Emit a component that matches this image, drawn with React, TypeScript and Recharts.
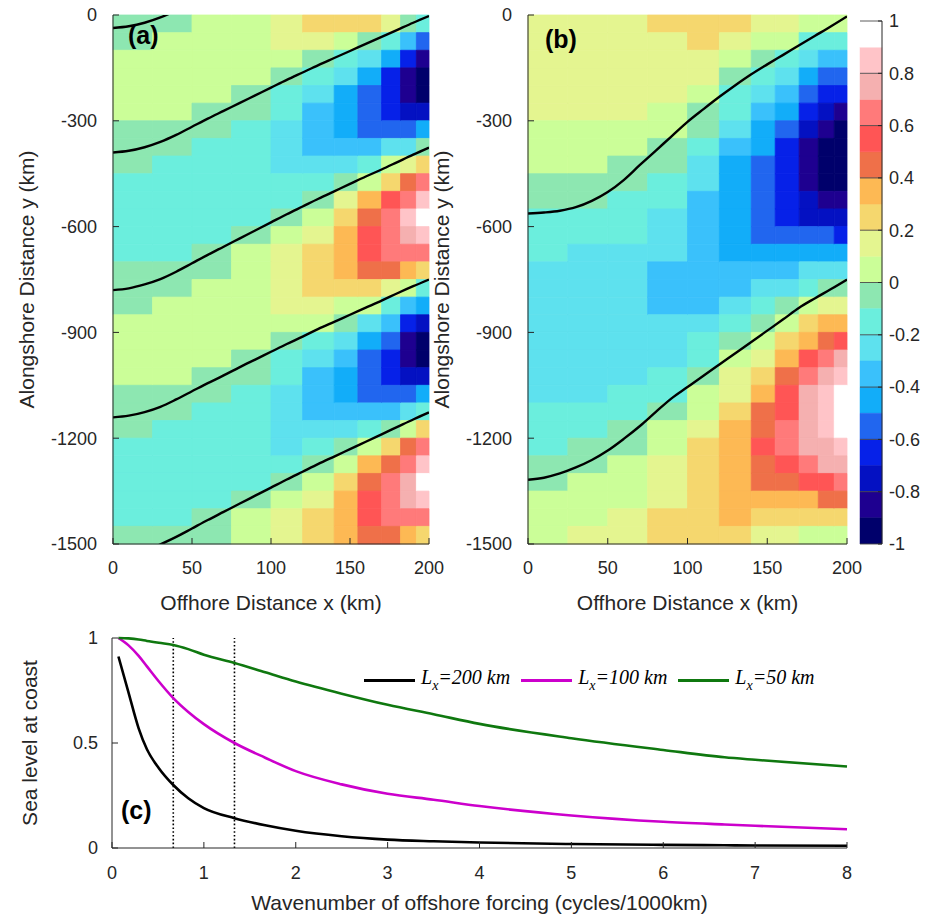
import React from "react";
import {
  ComposedChart,
  BarChart,
  Bar,
  Line,
  XAxis,
  YAxis,
  ReferenceArea,
  ReferenceLine,
} from "recharts";

// colour of each contour band, band k covers [k/10, (k+1)/10), k = -10..9
const bandColors = [
  "#00006b", "#1e0090", "#0411c2", "#0621e8", "#2166ef",
  "#12adf9", "#3ac1fb", "#5ee1ee", "#6beedd", "#8de7b1",
  "#cbfe98", "#e4f590", "#f5d76e", "#fdb954", "#ef7049",
  "#ff5555", "#ff7a7a", "#f5b0b0", "#ffc4c8", "#ffffff",
];

// grid cell edges (km)
const xEdges = [0, 25, 50, 75, 100, 120, 140, 155, 170, 182, 192, 200];
const yEdges = [
  0, -50, -100, -150, -200, -250, -300, -350, -400, -450, -500,
  -550, -600, -650, -700, -750, -800, -850, -900, -950, -1000,
  -1050, -1100, -1150, -1200, -1250, -1300, -1350, -1400, -1450, -1500,
];

// panel (a): band index per cell, one array per offshore column, top to bottom
const bandsA = [
  [-1, -1, 0, 0, 0, 0, -1, -1, -1, -2, -2, -2, -2, -2, -1, -1, -1, 0, 0, 0, 0, -1, -1, -1, -2, -2, -2, -2, -2, -1],
  [-1, 0, 0, 0, 0, 0, -1, -1, -2, -2, -2, -2, -2, -2, -1, -1, 0, 0, 0, 0, 0, -1, -1, -2, -2, -2, -2, -2, -2, -1],
  [0, 0, 0, 0, 0, -1, -1, -2, -2, -2, -2, -2, -2, -1, -1, 0, 0, 0, 0, 0, -1, -1, -2, -2, -2, -2, -2, -2, -1, -1],
  [0, 0, 0, 0, -1, -1, -2, -2, -2, -2, -2, -2, -1, 0, 0, 0, 0, 0, 0, -1, -1, -2, -2, -2, -2, -2, -2, -1, 0, 0],
  [1, 1, 0, -1, -2, -2, -3, -3, -3, -2, -2, -1, 0, 1, 1, 1, 1, 0, -1, -2, -2, -3, -3, -3, -3, -2, -1, 0, 1, 1],
  [2, 1, -1, -2, -3, -4, -4, -4, -3, -2, -1, 0, 1, 2, 2, 2, 1, 0, -2, -3, -4, -4, -4, -3, -2, -1, 0, 1, 2, 2],
  [2, 0, -2, -3, -5, -5, -5, -4, -3, -1, 1, 2, 3, 3, 3, 2, 0, -1, -3, -4, -5, -5, -4, -3, -1, 0, 2, 3, 3, 3],
  [2, -1, -3, -5, -6, -6, -6, -4, -2, 0, 3, 4, 5, 5, 4, 2, 0, -3, -5, -6, -6, -6, -4, -2, 0, 3, 4, 5, 5, 4],
  [1, -2, -5, -7, -7, -7, -6, -3, 0, 2, 5, 6, 6, 6, 4, 1, -2, -4, -6, -7, -7, -6, -4, -1, 2, 4, 6, 6, 6, 4],
  [-1, -4, -7, -9, -9, -8, -6, -3, 1, 4, 6, 8, 7, 6, 3, 0, -4, -7, -9, -9, -8, -6, -3, 0, 4, 6, 7, 7, 6, 3],
  [-2, -6, -9, -10, -10, -8, -5, -1, 2, 6, 8, 9, 8, 6, 2, -2, -5, -8, -10, -10, -8, -5, -2, 2, 6, 8, 9, 8, 6, 2],
];

// panel (b)
const bandsB = [
  [1, 1, 1, 1, 1, 1, 0, 0, 0, -1, -1, -2, -2, -2, -3, -3, -3, -3, -3, -3, -3, -3, -2, -2, -2, -1, -1, 0, 0, 0],
  [1, 1, 1, 1, 1, 1, 0, 0, 0, -1, -1, -2, -2, -3, -3, -3, -3, -3, -3, -3, -3, -3, -2, -2, -1, -1, 0, 0, 0, 1],
  [1, 1, 1, 1, 1, 1, 0, 0, -1, -1, -2, -2, -2, -3, -3, -3, -3, -3, -3, -3, -3, -2, -2, -1, -1, 0, 0, 0, 1, 1],
  [2, 1, 1, 1, 1, 0, 0, -1, -1, -2, -2, -3, -3, -3, -4, -4, -4, -3, -3, -3, -2, -2, -1, 0, 0, 1, 1, 1, 2, 2],
  [2, 2, 1, 1, 0, -1, -1, -2, -3, -3, -4, -4, -4, -4, -4, -4, -4, -3, -2, -2, -1, 0, 0, 1, 2, 2, 2, 2, 2, 2],
  [2, 1, 0, -1, -2, -2, -3, -4, -5, -5, -5, -5, -5, -5, -4, -4, -3, -2, -1, 0, 1, 1, 2, 3, 3, 3, 3, 3, 3, 2],
  [1, 0, -1, -2, -3, -4, -5, -5, -6, -6, -6, -6, -6, -5, -4, -3, -2, -1, 0, 1, 2, 3, 4, 4, 5, 4, 4, 3, 2, 1],
  [1, 0, -2, -3, -4, -5, -6, -7, -7, -7, -7, -7, -6, -5, -4, -3, -1, 0, 2, 3, 4, 5, 5, 6, 6, 5, 4, 3, 2, 1],
  [0, -2, -3, -5, -6, -7, -8, -9, -9, -9, -8, -8, -6, -5, -3, -2, 0, 2, 3, 5, 6, 7, 7, 7, 7, 6, 5, 3, 2, 0],
  [0, -2, -4, -6, -7, -8, -9, -10, -10, -10, -9, -8, -6, -5, -3, -1, 1, 3, 4, 6, 7, 8, 8, 8, 7, 7, 5, 4, 2, 0],
  [0, -2, -4, -6, -7, -9, -10, -10, -10, -10, -9, -8, -7, -5, -3, -1, 1, 3, 5, 7, 8, 9, 9, 9, 8, 7, 6, 4, 2, 0],
];

// black contour lines, y (km) at each x
const lineXs = [0, 10, 20, 30, 40, 50, 60, 70, 80, 90, 100, 110, 120, 130, 140, 150, 160, 170, 180, 190, 200];
const lineA0 = [-37, -32, -22, -7, 13, 36, 59];
const lineA1 = [-390, -385, -375, -360, -340, -317, -294, -272, -250, -228, -206, -184, -163, -142, -122, -102, -82, -62, -42, -22, -3];
const lineA2 = [-780, -775, -764, -749, -728, -704, -680, -657, -634, -611, -588, -565, -543, -521, -500, -479, -458, -438, -417, -396, -376];
const lineA3 = [-1141, -1136, -1126, -1111, -1090, -1067, -1044, -1022, -999, -977, -955, -933, -912, -890, -870, -850, -830, -810, -789, -769, -750];
const lineA4 = [-1533, -1527, -1517, -1501, -1480, -1456, -1432, -1409, -1386, -1363, -1340, -1317, -1295, -1273, -1252, -1231, -1210, -1189, -1168, -1147, -1127];
const lineB1 = [-563, -560, -555, -545, -527, -502, -468, -426, -385, -344, -303, -267, -232, -199, -168, -140, -113, -86, -59, -32, -4];
const lineB2 = [-1318, -1312, -1300, -1283, -1262, -1235, -1202, -1166, -1126, -1087, -1055, -1023, -991, -959, -927, -895, -863, -830, -803, -777, -750];

const xTicksField = [0, 50, 100, 150, 200];
const yTicksField = [-1500, -1200, -900, -600, -300, 0];

const colorLevels = [-1, -0.9, -0.8, -0.7, -0.6, -0.5, -0.4, -0.3, -0.2, -0.1, 0, 0.1, 0.2, 0.3, 0.4, 0.5, 0.6, 0.7, 0.8, 0.9, 1];
const colorTicks = [-1, -0.8, -0.6, -0.4, -0.2, 0, 0.2, 0.4, 0.6, 0.8, 1];

// panel (c)
const kValues = [0.07, 0.18, 0.29, 0.38, 0.51, 0.667, 0.83, 1, 1.333, 1.667, 2, 2.5, 3, 3.5, 4, 5, 6, 6.667, 7, 8];
const lx200 = [0.912, 0.74, 0.57, 0.47, 0.38, 0.3, 0.237, 0.19, 0.142, 0.108, 0.082, 0.056, 0.04, 0.032, 0.026, 0.019, 0.015, 0.013, 0.012, 0.011];
const lx100 = [1.0, 0.965, 0.915, 0.865, 0.793, 0.714, 0.648, 0.59, 0.5, 0.43, 0.366, 0.303, 0.258, 0.23, 0.2, 0.155, 0.125, 0.112, 0.106, 0.089];
const lx50 = [1.0, 0.998, 0.993, 0.986, 0.977, 0.967, 0.947, 0.92, 0.881, 0.837, 0.793, 0.735, 0.682, 0.637, 0.591, 0.523, 0.467, 0.432, 0.42, 0.388];
const forcingK = [0.667, 1.333];
const kTicks = [0, 1, 2, 3, 4, 5, 6, 7, 8];
const levelTicks = [0, 0.5, 1];

const TEXT = "#262626";
const tickStyle = { fontSize: 18, fill: TEXT };
const edge = { stroke: TEXT };

const toPoints = (ys: number[]) => ys.map((y, i) => ({ x: lineXs[i], y }));

function FieldPanel({ bands, lines, right }: { bands: number[][]; lines: number[][]; right: number }) {
  return (
    <ComposedChart width={460} height={620} margin={{ top: 15, right, bottom: 0, left: 0 }}>
      {bands.flatMap((col, j) =>
        col.map((k, i) => (
          <ReferenceArea
            key={`c${j}-${i}`}
            x1={xEdges[j]}
            x2={xEdges[j + 1]}
            y1={yEdges[i + 1]}
            y2={yEdges[i]}
            fill={bandColors[k + 10]}
            fillOpacity={1}
            stroke={bandColors[k + 10]}
            strokeWidth={0.8}
          />
        ))
      )}
      {lines.map((ys, n) => (
        <Line
          key={`l${n}`}
          data={toPoints(ys)}
          dataKey="y"
          type="monotone"
          stroke="#000"
          strokeWidth={2.4}
          dot={false}
          activeDot={false}
          isAnimationActive={false}
        />
      ))}
      <XAxis
        dataKey="x"
        type="number"
        domain={[0, 200]}
        ticks={xTicksField}
        allowDataOverflow
        height={76}
        tickSize={-6}
        tickMargin={23}
        tick={tickStyle}
        tickLine={edge}
        axisLine={edge}
        label={{ value: "Offhore Distance x (km)", position: "insideBottom", offset: 10, fontSize: 21, fill: TEXT }}
      />
      <XAxis
        xAxisId="top"
        orientation="top"
        type="number"
        domain={[0, 200]}
        ticks={xTicksField}
        height={0}
        tickSize={-6}
        tick={false}
        tickLine={edge}
        axisLine={edge}
      />
      <YAxis
        type="number"
        domain={[-1500, 0]}
        ticks={yTicksField}
        allowDataOverflow
        width={113}
        tickSize={-6}
        tickMargin={22}
        tick={tickStyle}
        tickLine={edge}
        axisLine={edge}
        label={{
          value: "Alongshore Distance y (km)",
          angle: -90,
          position: "insideLeft",
          offset: 27,
          fontSize: 21,
          fill: TEXT,
          style: { textAnchor: "middle" },
        }}
      />
      <YAxis
        yAxisId="right"
        orientation="right"
        type="number"
        domain={[-1500, 0]}
        ticks={yTicksField}
        width={0}
        tickSize={-6}
        tick={false}
        tickLine={edge}
        axisLine={edge}
      />
    </ComposedChart>
  );
}

// colour bar as one stacked bar: bands below 0 stack downward, bands above 0 upward
const bandOrder = [9, 8, 7, 6, 5, 4, 3, 2, 1, 0, 10, 11, 12, 13, 14, 15, 16, 17, 18, 19];
const colorRow: Record<string, number | string> = { c: "bar" };
bandColors.forEach((_, i) => {
  const w = colorLevels[i + 1] - colorLevels[i];
  colorRow[`b${i}`] = i < 10 ? -w : w;
});

function ColorBar() {
  return (
    <BarChart
      width={78}
      height={560}
      data={[colorRow]}
      stackOffset="sign"
      barCategoryGap={0}
      margin={{ top: 21, right: 0, bottom: 16, left: 5 }}
    >
      {bandOrder.map((i) => (
        <Bar
          key={`b${i}`}
          dataKey={`b${i}`}
          stackId="cb"
          fill={bandColors[i]}
          stroke={bandColors[i]}
          strokeWidth={0.5}
          isAnimationActive={false}
        />
      ))}
      {colorTicks.map((t) => (
        <ReferenceLine key={`t${t}`} y={t} stroke="#4a4a4a" strokeWidth={0.9} />
      ))}
      <XAxis dataKey="c" hide />
      <YAxis
        orientation="right"
        type="number"
        domain={[-1, 1]}
        allowDataOverflow
        ticks={colorTicks}
        width={51}
        tickSize={-4}
        tickMargin={11}
        tick={tickStyle}
        tickLine={edge}
        axisLine={edge}
      />
      <YAxis
        yAxisId="left"
        orientation="left"
        type="number"
        domain={[-1, 1]}
        width={0}
        tick={false}
        tickLine={false}
        axisLine={edge}
      />
    </BarChart>
  );
}

const curveRows = kValues.map((k, i) => ({ k, lx200: lx200[i], lx100: lx100[i], lx50: lx50[i] }));

function CoastChart() {
  return (
    <ComposedChart width={933} height={300} data={curveRows} margin={{ top: 18, right: 86, bottom: 0, left: 0 }}>
      {forcingK.map((k) => (
        <ReferenceLine key={`f${k}`} x={k} stroke="#000" strokeWidth={1.6} strokeDasharray="1.6 2.2" />
      ))}
      <Line dataKey="lx200" type="monotone" stroke="#000000" strokeWidth={2.6} dot={false} activeDot={false} isAnimationActive={false} />
      <Line dataKey="lx100" type="monotone" stroke="#cc00cc" strokeWidth={2.6} dot={false} activeDot={false} isAnimationActive={false} />
      <Line dataKey="lx50" type="monotone" stroke="#0f780f" strokeWidth={2.6} dot={false} activeDot={false} isAnimationActive={false} />
      <XAxis
        dataKey="k"
        type="number"
        domain={[0, 8]}
        ticks={kTicks}
        height={72}
        tickSize={-6}
        tickMargin={24}
        tick={tickStyle}
        tickLine={edge}
        axisLine={edge}
        label={{
          value: "Wavenumber of offshore forcing (cycles/1000km)",
          position: "insideBottom",
          offset: 10,
          fontSize: 21,
          fill: TEXT,
        }}
      />
      <XAxis xAxisId="top" orientation="top" type="number" domain={[0, 8]} ticks={kTicks} height={0} tickSize={-6} tick={false} tickLine={edge} axisLine={edge} />
      <YAxis
        type="number"
        domain={[0, 1]}
        ticks={levelTicks}
        width={112}
        tickSize={-6}
        tickMargin={20}
        tick={tickStyle}
        tickLine={edge}
        axisLine={edge}
        label={{
          value: "Sea level at coast",
          angle: -90,
          position: "insideLeft",
          offset: 30,
          fontSize: 21,
          fill: TEXT,
          style: { textAnchor: "middle" },
        }}
      />
      <YAxis yAxisId="right" orientation="right" type="number" domain={[0, 1]} ticks={levelTicks} width={0} tickSize={-6} tick={false} tickLine={edge} axisLine={edge} />
    </ComposedChart>
  );
}

const legendItems = [
  { color: "#000000", lx: "200" },
  { color: "#cc00cc", lx: "100" },
  { color: "#0f780f", lx: "50" },
];

function CoastLegend() {
  return (
    <div style={{ position: "absolute", left: 364, top: 665, display: "flex", alignItems: "center", height: 30 }}>
      {legendItems.map((it) => (
        <div key={it.lx} style={{ display: "flex", alignItems: "center", marginRight: 11 }}>
          <span style={{ display: "inline-block", width: 51, height: 3, background: it.color, marginRight: 6 }} />
          <span style={{ fontFamily: '"Liberation Serif", "Times New Roman", serif', fontStyle: "italic", fontSize: 20, color: "#000" }}>
            L<sub style={{ fontSize: 14, verticalAlign: "-6px" }}>x</sub>={it.lx} km
          </span>
        </div>
      ))}
    </div>
  );
}

const panelLabel = { position: "absolute" as const, fontSize: 25, fontWeight: 700, color: "#000", lineHeight: 1 };

export default function App() {
  return (
    <div
      style={{
        position: "relative",
        width: 933,
        height: 921,
        background: "#ffffff",
        fontFamily: '"Liberation Sans", Arial, Helvetica, sans-serif',
        overflow: "hidden",
      }}
    >
      <style>{"body{margin:0}"}</style>
      <div style={{ position: "absolute", left: 0, top: 0 }}>
        <FieldPanel bands={bandsA} lines={[lineA0, lineA1, lineA2, lineA3, lineA4]} right={31} />
      </div>
      <div style={{ position: "absolute", left: 415, top: 0 }}>
        <FieldPanel bands={bandsB} lines={[lineB1, lineB2]} right={28} />
      </div>
      <div style={{ position: "absolute", left: 855, top: 0 }}>
        <ColorBar />
      </div>
      <div style={{ position: "absolute", left: 0, top: 620 }}>
        <CoastChart />
      </div>
      <CoastLegend />
      <div style={{ ...panelLabel, left: 128, top: 23 }}>(a)</div>
      <div style={{ ...panelLabel, left: 545, top: 27 }}>(b)</div>
      <div style={{ ...panelLabel, left: 121, top: 798 }}>(c)</div>
    </div>
  );
}
